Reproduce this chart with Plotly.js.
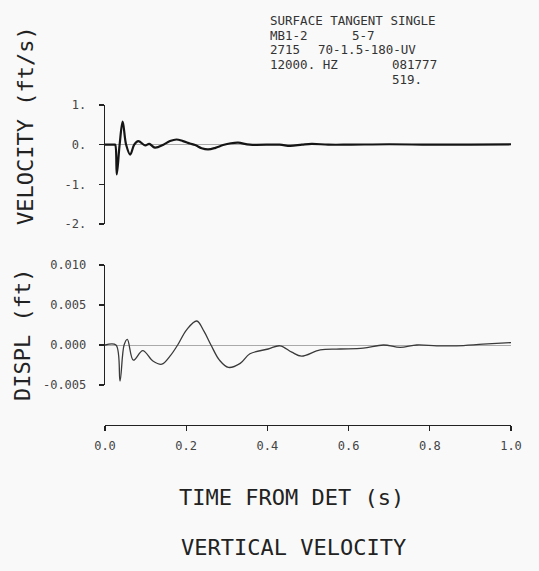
<!DOCTYPE html>
<html>
<head>
<meta charset="utf-8">
<script src="https://cdn.plot.ly/plotly-3.0.1.min.js"></script>
<style>html,body{margin:0;padding:0;background:#f9f9f9;}#chart{width:539px;height:571px;}</style>
</head>
<body>
<div id="chart"></div>
<script>
// ---- data ----
var timeVel = [0, 0.022, 0.025, 0.029, 0.036, 0.0435, 0.052, 0.062, 0.072, 0.082, 0.099, 0.109, 0.123, 0.144, 0.16, 0.176, 0.192, 0.209, 0.222, 0.238, 0.254, 0.272, 0.291, 0.31, 0.328, 0.357, 0.43, 0.456, 0.485, 0.509, 0.55, 0.6, 0.7, 0.8, 0.9, 1.0];
var velocity = [0, 0, 0, -0.75, 0, 0.58, 0, -0.25, 0, 0.09, -0.02, 0.02, -0.075, 0, 0.09, 0.13, 0.09, 0.03, -0.01, -0.09, -0.12, -0.08, -0.01, 0.035, 0.05, 0, 0, -0.03, 0, 0.02, 0, 0, 0.01, 0, 0, 0.01];

var timeDis = [0, 0.027, 0.037, 0.047, 0.055, 0.07, 0.093, 0.118, 0.14, 0.16, 0.179, 0.201, 0.226, 0.244, 0.261, 0.282, 0.304, 0.333, 0.357, 0.402, 0.431, 0.46, 0.484, 0.53, 0.58, 0.636, 0.686, 0.727, 0.768, 0.817, 0.866, 0.931, 1.0];
var displ = [0, 0, -0.0045, 0, 0.0007, -0.0019, -0.0007, -0.002, -0.0024, -0.0014, 0, 0.0019, 0.003, 0.0017, 0, -0.0019, -0.0028, -0.0023, -0.0011, -0.0005, -0.0001, -0.0009, -0.0014, -0.0006, -0.0005, -0.0004, 0, -0.0003, 0, -0.0001, -0.0001, 0.0001, 0.0003];

var xTickVals = [0, 0.2, 0.4, 0.6, 0.8, 1.0];
var xTickText = ["0.0", "0.2", "0.4", "0.6", "0.8", "1.0"];
var velTickVals = [1, 0, -1, -2];
var velTickText = ["1.", "0.", "-1.", "-2."];
var disTickVals = [0.010, 0.005, 0.000, -0.005];
var disTickText = ["0.010", "0.005", "0.000", "-0.005"];

var headerLines = [
  {text: "SURFACE TANGENT SINGLE", x: 268, y: 20},
  {text: "MB1-2", x: 268, y: 35},
  {text: "5-7", x: 350, y: 35},
  {text: "2715", x: 268, y: 50},
  {text: "70-1.5-180-UV", x: 316, y: 50},
  {text: "12000. HZ", x: 268, y: 65},
  {text: "081777", x: 390, y: 65},
  {text: "519.", x: 390, y: 79}
];

// ---- layout helpers ----
var W = 539, H = 571;
function px(x) { return x / W; }
function py(y) { return 1 - y / H; }
var mono = "DejaVu Sans Mono, Liberation Mono, monospace";

var traces = [
  {x: timeVel, y: velocity, xaxis: 'x', yaxis: 'y', mode: 'lines',
   line: {color: '#151515', width: 2.2, shape: 'spline', smoothing: 1}, hoverinfo: 'skip'},
  {x: timeDis, y: displ, xaxis: 'x2', yaxis: 'y2', mode: 'lines',
   line: {color: '#3a3a3a', width: 1.3, shape: 'spline', smoothing: 1}, hoverinfo: 'skip'},
  {x: [], y: [], xaxis: 'x3', yaxis: 'y3', mode: 'lines', hoverinfo: 'skip'}
];

var axisCommon = {
  showgrid: false, showline: true, linecolor: '#222', linewidth: 1.3,
  ticks: 'outside', ticklen: 5, tickwidth: 1.2, tickcolor: '#222',
  tickfont: {family: mono, size: 12, color: '#444'}, fixedrange: true
};
var hiddenX = {
  domain: [px(105), px(511)], range: [0, 1.0], showline: false, showgrid: false,
  zeroline: false, showticklabels: false, ticks: '', fixedrange: true
};

var layout = {
  width: W, height: H,
  margin: {l: 0, r: 0, t: 0, b: 0},
  paper_bgcolor: '#f9f9f9', plot_bgcolor: 'rgba(0,0,0,0)',
  showlegend: false,
  xaxis: Object.assign({}, hiddenX, {anchor: 'y'}),
  xaxis2: Object.assign({}, hiddenX, {anchor: 'y2'}),
  xaxis3: Object.assign({}, axisCommon, {
    domain: [px(105), px(511)], range: [0, 1.0], anchor: 'y3', side: 'bottom',
    tickmode: 'array', tickvals: xTickVals, ticktext: xTickText,
    zeroline: false, ticklabelstandoff: 4
  }),
  yaxis: Object.assign({}, axisCommon, {
    domain: [py(224), py(105)], range: [-2, 1], anchor: 'x',
    tickmode: 'array', tickvals: velTickVals, ticktext: velTickText,
    zeroline: true, zerolinecolor: '#aaaaaa', zerolinewidth: 1,
    ticklabelstandoff: 10
  }),
  yaxis2: Object.assign({}, axisCommon, {
    domain: [py(385), py(265)], range: [-0.005, 0.010], anchor: 'x2',
    tickmode: 'array', tickvals: disTickVals, ticktext: disTickText,
    zeroline: true, zerolinecolor: '#aaaaaa', zerolinewidth: 1,
    ticklabelstandoff: 10
  }),
  yaxis3: {
    domain: [py(425), py(424)], range: [0, 1], anchor: 'x3', visible: false, fixedrange: true
  },
  annotations: []
};

headerLines.forEach(function (h) {
  layout.annotations.push({
    text: h.text, xref: 'paper', yref: 'paper', x: px(h.x), y: py(h.y),
    xanchor: 'left', yanchor: 'middle', showarrow: false,
    font: {family: mono, size: 12.5, color: '#333'}
  });
});

var titleFont = {family: mono, size: 22, color: '#222'};
layout.annotations.push(
  {text: "VELOCITY (ft/s)", xref: 'paper', yref: 'paper', x: px(25), y: py(126),
   xanchor: 'center', yanchor: 'middle', textangle: -90, showarrow: false, font: titleFont},
  {text: "DISPL (ft)", xref: 'paper', yref: 'paper', x: px(22), y: py(335),
   xanchor: 'center', yanchor: 'middle', textangle: -90, showarrow: false, font: titleFont},
  {text: "TIME FROM DET (s)", xref: 'paper', yref: 'paper', x: px(291), y: py(497),
   xanchor: 'center', yanchor: 'middle', showarrow: false, font: titleFont},
  {text: "VERTICAL VELOCITY", xref: 'paper', yref: 'paper', x: px(293), y: py(547),
   xanchor: 'center', yanchor: 'middle', showarrow: false, font: titleFont}
);

Plotly.newPlot('chart', traces, layout, {displayModeBar: false, staticPlot: true});
</script>
</body>
</html>
